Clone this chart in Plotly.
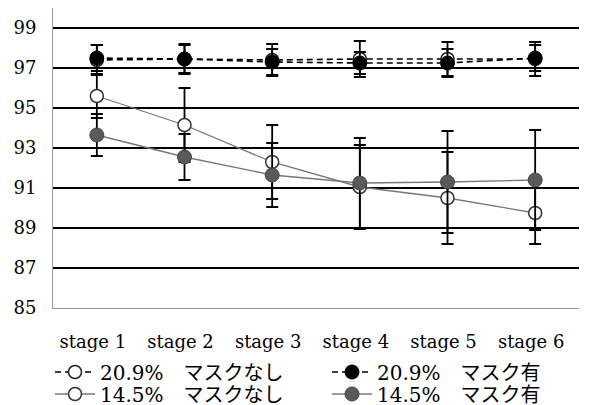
import plotly.graph_objects as go

stages = ["stage 1", "stage 2", "stage 3", "stage 4", "stage 5", "stage 6"]
y_ticks = [85, 87, 89, 91, 93, 95, 97, 99]

o209_nashi = [97.4, 97.45, 97.4, 97.45, 97.45, 97.45]
o209_nashi_err = [0.75, 0.75, 0.8, 0.9, 0.85, 0.85]
o209_ari = [97.5, 97.45, 97.3, 97.25, 97.25, 97.5]
o209_ari_err = [0.65, 0.7, 0.65, 0.55, 0.7, 0.65]
o145_nashi = [95.6, 94.15, 92.3, 91.05, 90.5, 89.75]
o145_nashi_err = [1.1, 1.85, 1.85, 2.1, 2.3, 1.55]
o145_ari = [93.65, 92.55, 91.65, 91.25, 91.3, 91.4]
o145_ari_err = [1.05, 1.15, 1.6, 2.25, 2.55, 2.5]

names = {
    "n209": "20.9%\u3000マスクなし",
    "a209": "20.9%\u3000マスク有",
    "n145": "14.5%\u3000マスクなし",
    "a145": "14.5%\u3000マスク有",
}

FONT = "'DejaVu Serif', 'Liberation Serif', 'Noto Sans CJK JP', serif"

def err(vals):
    return dict(type="data", array=vals, visible=True, color="black",
                thickness=1.8, width=6)

fig = go.Figure()
fig.add_trace(go.Scatter(
    x=stages, y=o209_nashi, name=names["n209"], legend="legend",
    mode="lines+markers", error_y=err(o209_nashi_err),
    line=dict(color="black", width=1.6, dash="6px,4px"),
    marker=dict(symbol="circle", size=13, color="white",
                line=dict(color="#222", width=1.5))))
fig.add_trace(go.Scatter(
    x=stages, y=o145_nashi, name=names["n145"], legend="legend3",
    mode="lines+markers", error_y=err(o145_nashi_err),
    line=dict(color="#777", width=1.3),
    marker=dict(symbol="circle", size=13, color="white",
                line=dict(color="#333", width=1.5))))
fig.add_trace(go.Scatter(
    x=stages, y=o209_ari, name=names["a209"], legend="legend2",
    mode="lines+markers", error_y=err(o209_ari_err),
    line=dict(color="black", width=1.6, dash="6px,4px"),
    marker=dict(symbol="circle", size=14, color="black",
                line=dict(color="black", width=1))))
fig.add_trace(go.Scatter(
    x=stages, y=o145_ari, name=names["a145"], legend="legend4",
    mode="lines+markers", error_y=err(o145_ari_err),
    line=dict(color="#777", width=1.3),
    marker=dict(symbol="circle", size=14, color="#5a5a5a",
                line=dict(color="#444", width=1))))

legend_common = dict(
    orientation="v", xref="container", yref="container",
    xanchor="left", yanchor="middle",
    itemwidth=40, font=dict(family=FONT, size=20, color="black"),
    bgcolor="rgba(0,0,0,0)", borderwidth=0, itemclick=False,
)

W, H = 591, 397
col1_x = 42 / W
col2_x = 319 / W
row1_y = 1 - 364 / H
row2_y = 1 - 386 / H

fig.update_layout(
    width=W, height=H,
    margin=dict(l=45, r=20, t=0, b=97, autoexpand=False),
    paper_bgcolor="white", plot_bgcolor="white",
    font=dict(family=FONT, size=18, color="black"),
    showlegend=True,
    legend=dict(x=col1_x, y=row1_y, **legend_common),
    legend2=dict(x=col2_x, y=row1_y, **legend_common),
    legend3=dict(x=col1_x, y=row2_y, **legend_common),
    legend4=dict(x=col2_x, y=row2_y, **legend_common),
    xaxis=dict(
        type="category", range=[-0.5, 5.5], showgrid=False, ticks="",
        showline=True, linecolor="#999", linewidth=1, mirror=False,
        ticklabelstandoff=17, ticklabelshift=-4,
        tickfont=dict(family=FONT, size=18, color="black"),
        zeroline=False,
    ),
    yaxis=dict(
        range=[85, 100], tickvals=y_ticks, ticks="",
        showgrid=True, gridcolor="black", gridwidth=2,
        showline=True, linecolor="#999", linewidth=1, mirror=False,
        ticklabelstandoff=12,
        tickfont=dict(family=FONT, size=18, color="black"),
        zeroline=False,
    ),
)

fig.write_html("out.html")
